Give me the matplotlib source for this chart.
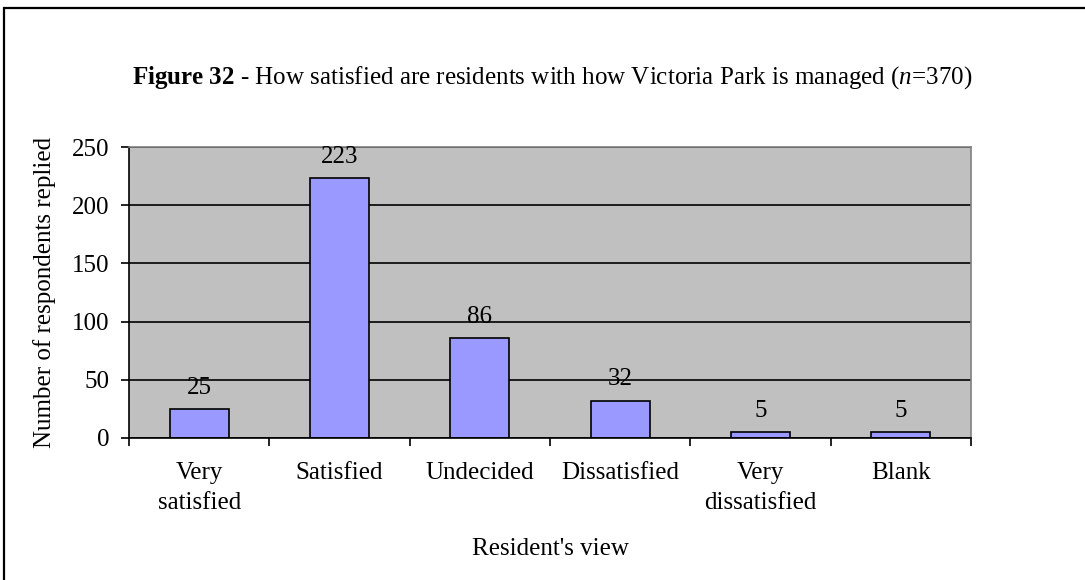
import numpy as np
import matplotlib.pyplot as plt
from matplotlib.patches import Rectangle

plt.rcParams['font.family'] = ['Liberation Serif', 'DejaVu Serif']
plt.rcParams['mathtext.fontset'] = 'custom'
plt.rcParams['mathtext.rm'] = 'Liberation Serif'
plt.rcParams['mathtext.bf'] = 'Liberation Serif:bold'
plt.rcParams['mathtext.it'] = 'Liberation Serif:italic'

categories = ['Very\nsatisfied', 'Satisfied', 'Undecided', 'Dissatisfied',
              'Very\ndissatisfied', 'Blank']
counts = [25, 223, 86, 32, 5, 5]
yticks = [0, 50, 100, 150, 200, 250]

FS = 18

fig = plt.figure(figsize=(10.85, 5.8), dpi=100)
# outer chart border (cropped on the right and bottom like the original)
fig.patches.append(Rectangle((4/1085, -0.05), 1.2, 1 - 8/580 + 0.05,
                             transform=fig.transFigure, fill=False,
                             edgecolor='black', linewidth=1.6))

ax = fig.add_axes([129/1085, 142/580, 842/1085, 291/580])
ax.set_facecolor('#c0c0c0')

x = np.arange(len(categories))
bars = ax.bar(x, counts, width=0.42, color='#9999ff', edgecolor='black', linewidth=1.2)
for xi, v in zip(x, counts):
    ax.annotate(str(v), (xi, v), xytext=(0, 11), textcoords='offset points',
                ha='center', va='baseline', fontsize=FS)

ax.set_xlim(-0.5, len(categories) - 0.5)
ax.set_ylim(0, 250)
ax.set_yticks(yticks)
ax.yaxis.grid(True, color='black', linewidth=1.2)
ax.set_axisbelow(True)

ax.set_xticks(x)
ax.set_xticklabels(categories, fontsize=FS, linespacing=1.5)
ax.set_xticks(np.arange(len(categories) + 1) - 0.5, minor=True)
ax.tick_params(axis='x', which='major', length=0, pad=17)
ax.tick_params(axis='x', which='minor', length=6, width=1.2, direction='out')
ax.tick_params(axis='y', length=6, width=1.2, direction='out', labelsize=FS, pad=8)

for s in ['left', 'bottom']:
    ax.spines[s].set_color('black')
    ax.spines[s].set_linewidth(1.2)
for s in ['top', 'right']:
    ax.spines[s].set_color('#808080')
    ax.spines[s].set_linewidth(1.2)

ax.set_ylabel('Number of respondents replied', fontsize=FS)
ax.set_xlabel("Resident's view", fontsize=FS)
ax.xaxis.set_label_coords(0.5, -(549 - 438)/291)
ax.yaxis.set_label_coords(-(129 - 45)/842, 0.5)
ax.xaxis.label.set_va('center')
ax.yaxis.label.set_va('center')

fig.text(552/1085, 1 - 78/580,
         r"$\mathbf{Figure\ 32}$ - How satisfied are residents with how Victoria Park is managed ($\mathit{n}$=370)",
         ha='center', va='center', fontsize=FS)

fig.savefig('out.png', dpi=100)
